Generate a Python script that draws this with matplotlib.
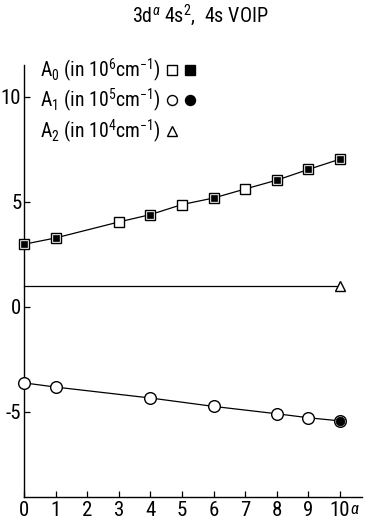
import numpy as np
import matplotlib
matplotlib.use("Agg")
import matplotlib.pyplot as plt
from matplotlib.lines import Line2D
from matplotlib.legend_handler import HandlerTuple
from matplotlib import font_manager

available = {f.name for f in font_manager.fontManager.ttflist}
family = next((f for f in ['Liberation Sans Narrow', 'Roboto Condensed',
                           'DejaVu Sans Condensed', 'Roboto'] if f in available),
              'DejaVu Sans')
plt.rcParams['font.family'] = [family, 'DejaVu Sans']
plt.rcParams['mathtext.fontset'] = 'custom'
plt.rcParams['mathtext.rm'] = family
plt.rcParams['mathtext.it'] = family + ':italic'

# 4s VOIP coefficients versus d-occupation alpha
alpha_a0 = np.array([0, 1, 3, 4, 5, 6, 7, 8, 9, 10])
a0 = np.array([2.98, 3.28, 4.04, 4.39, 4.87, 5.18, 5.61, 6.03, 6.54, 7.03])
a0_filled = np.array([1, 1, 0, 1, 0, 1, 0, 1, 1, 1], dtype=bool)

alpha_a1 = np.array([0, 1, 4, 6, 8, 9, 10])
a1 = np.array([-3.62, -3.82, -4.34, -4.74, -5.09, -5.28, -5.43])
a1_filled = np.array([0, 0, 0, 0, 0, 0, 1], dtype=bool)

alpha_a2 = np.array([0, 10])
a2 = np.array([1.0, 1.0])

x_ticks = list(range(11))
x_tick_labels = [str(t) for t in x_ticks]
y_ticks = [-5, 0, 5, 10]
y_tick_labels = ["-5", "0", "5", "10"]

fig = plt.figure(figsize=(3.65, 5.22), dpi=100)
ax = fig.add_axes([0.066, 0.048, 0.926, 0.827])
ax.set_xlim(0, 10.7)
ax.set_ylim(-9.05, 11.5)

lw = 0.9
# A0 series: squares
ax.plot(alpha_a0, a0, color='black', lw=lw, zorder=2, clip_on=False)
ax.plot(alpha_a0, a0, ls='none', marker='s', ms=7.2, mfc='white', mec='black',
        mew=1.0, zorder=3, clip_on=False)
ax.plot(alpha_a0[a0_filled], a0[a0_filled], ls='none', marker='s', ms=4.6,
        mfc='black', mec='black', mew=0.5, zorder=4, clip_on=False)

# A1 series: circles
ax.plot(alpha_a1, a1, color='black', lw=lw, zorder=2, clip_on=False)
ax.plot(alpha_a1, a1, ls='none', marker='o', ms=8.4, mfc='white', mec='black',
        mew=1.0, zorder=3, clip_on=False)
ax.plot(alpha_a1[a1_filled], a1[a1_filled], ls='none', marker='o', ms=6.4,
        mfc='black', mec='black', mew=0.5, zorder=4, clip_on=False)

# A2 series: constant, triangle at the end point
ax.plot(alpha_a2, a2, color='black', lw=lw, zorder=2, clip_on=False)
ax.plot(alpha_a2[-1:], a2[-1:], ls='none', marker='^', ms=7, mfc='white',
        mec='black', mew=1.0, zorder=3, clip_on=False)

for s in ['top', 'right']:
    ax.spines[s].set_visible(False)
for s in ['left', 'bottom']:
    ax.spines[s].set_linewidth(1.0)

ax.set_xticks(x_ticks)
ax.set_xticklabels(x_tick_labels)
ax.set_yticks(y_ticks)
ax.set_yticklabels(y_tick_labels)
ax.tick_params(direction='in', length=4, width=0.9, labelsize=15, pad=2)
ax.tick_params(axis='x', pad=3)

ax.annotate(r'$\alpha$', xy=(10, 0), xycoords=('data', 'axes fraction'),
            xytext=(7.5, -9), textcoords='offset points', fontsize=12,
            ha='left', va='center')

fig.text(0.55, 0.970, r'3d$^{\alpha}$ 4s$^2$,  4s VOIP', ha='center', va='center',
         fontsize=14.5)

# Legend: label followed by open / filled symbols
sq_o = Line2D([], [], ls='none', marker='s', ms=7.2, mfc='white', mec='black', mew=1.0)
sq_f = Line2D([], [], ls='none', marker='s', ms=7.2, mfc='black', mec='black', mew=1.0)
ci_o = Line2D([], [], ls='none', marker='o', ms=7.2, mfc='white', mec='black', mew=1.0)
ci_f = Line2D([], [], ls='none', marker='o', ms=7.2, mfc='black', mec='black', mew=1.0)
tri = Line2D([], [], ls='none', marker='^', ms=6.5, mfc='white', mec='black', mew=1.0)
blank = Line2D([], [], ls='none', marker='none')
labels = [r'A$_0$ (in 10$^6$cm$^{-1}$)',
          r'A$_1$ (in 10$^5$cm$^{-1}$)',
          r'A$_2$ (in 10$^4$cm$^{-1}$)']
leg = ax.legend([(sq_o, sq_f), (ci_o, ci_f), (tri, blank)], labels,
                handler_map={tuple: HandlerTuple(ndivide=None, pad=0.1)},
                markerfirst=False, frameon=False, fontsize=14.2,
                loc='upper left', bbox_to_anchor=(0.11, 0.892),
                bbox_transform=fig.transFigure, borderaxespad=0, borderpad=0,
                handlelength=1.7, handletextpad=0.15, labelspacing=0.15)

fig.savefig('out.png', dpi=100)
